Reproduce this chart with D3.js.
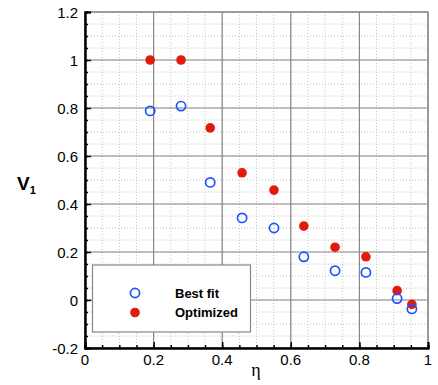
<!DOCTYPE html>
<html>
<head>
<meta charset="utf-8">
<script src="https://cdn.jsdelivr.net/npm/d3@7"></script>
<style>
  body { margin: 0; background: #fff; }
  text { font-family: "Liberation Sans", Arial, sans-serif; }
</style>
</head>
<body>
<div id="chart"></div>
<script>
let etaValues = [0.19, 0.28, 0.365, 0.458, 0.551, 0.638, 0.729, 0.819, 0.91, 0.953];
let bestFit = [0.788, 0.808, 0.49, 0.342, 0.30, 0.18, 0.122, 0.115, 0.006, -0.037];
let optimized = [1.0, 1.0, 0.717, 0.53, 0.458, 0.308, 0.22, 0.18, 0.039, -0.018];
let xTicks = [0, 0.2, 0.4, 0.6, 0.8, 1];
let yTicks = [-0.2, 0, 0.2, 0.4, 0.6, 0.8, 1, 1.2];
let legendLabels = ["Best fit", "Optimized"];

function drawChart() {
  let width = 438, height = 385;
  let left = 85, right = 428, top = 12, bottom = 348;

  let x = d3.scaleLinear().domain([0, 1]).range([left, right]);
  let y = d3.scaleLinear().domain([-0.2, 1.2]).range([bottom, top]);

  let svg = d3.select('#chart').append('svg')
    .attr('width', width).attr('height', height);

  let minorX = d3.range(0, 1.0001, 0.05);
  let minorY = d3.range(-0.2, 1.2001, 0.05);
  let label = d => String(+d.toFixed(1));

  // minor grid, dotted
  svg.append('g').selectAll('line').data(minorX).join('line')
    .attr('x1', d => x(d)).attr('x2', d => x(d))
    .attr('y1', top).attr('y2', bottom)
    .attr('stroke', '#c4c4c4').attr('stroke-width', 1)
    .attr('stroke-dasharray', '1,2');
  svg.append('g').selectAll('line').data(minorY).join('line')
    .attr('y1', d => y(d)).attr('y2', d => y(d))
    .attr('x1', left).attr('x2', right)
    .attr('stroke', '#c4c4c4').attr('stroke-width', 1)
    .attr('stroke-dasharray', '1,2');

  // major grid
  svg.append('g').selectAll('line').data(xTicks).join('line')
    .attr('x1', d => x(d)).attr('x2', d => x(d))
    .attr('y1', top).attr('y2', bottom)
    .attr('stroke', '#888').attr('stroke-width', 1.2);
  svg.append('g').selectAll('line').data(yTicks).join('line')
    .attr('y1', d => y(d)).attr('y2', d => y(d))
    .attr('x1', left).attr('x2', right)
    .attr('stroke', '#888').attr('stroke-width', 1.2);

  // frame
  svg.append('rect')
    .attr('x', left).attr('y', top)
    .attr('width', right - left).attr('height', bottom - top)
    .attr('fill', 'none').attr('stroke', '#888').attr('stroke-width', 1.2);

  // axes with inward ticks
  svg.append('g').attr('transform', `translate(${left},0)`)
    .call(d3.axisRight(y).tickValues(yTicks).tickSize(6).tickFormat(''));
  svg.append('g').attr('transform', `translate(${left},0)`)
    .call(d3.axisRight(y).tickValues(minorY).tickSize(3).tickFormat(''));
  svg.append('g').attr('transform', `translate(0,${bottom})`)
    .call(d3.axisTop(x).tickValues(xTicks).tickSize(6).tickFormat(''));
  svg.append('g').attr('transform', `translate(0,${bottom})`)
    .call(d3.axisTop(x).tickValues(minorX).tickSize(3).tickFormat(''));
  svg.selectAll('.domain').attr('stroke', '#000').attr('stroke-width', 2);
  svg.selectAll('.tick line').attr('stroke', '#000').attr('stroke-width', 1.5);

  // tick labels
  svg.append('g').selectAll('text').data(yTicks).join('text')
    .attr('x', left - 7).attr('y', d => y(d))
    .attr('text-anchor', 'end').attr('dominant-baseline', 'central')
    .attr('font-size', 15).text(label);
  svg.append('g').selectAll('text').data(xTicks).join('text')
    .attr('x', d => x(d)).attr('y', bottom + 17)
    .attr('text-anchor', 'middle')
    .attr('font-size', 15).text(label);

  // axis titles
  let yl = svg.append('text').attr('x', 17).attr('y', 190)
    .attr('font-size', 19).attr('font-weight', 'bold').text('V');
  yl.append('tspan').attr('font-size', 11).attr('dy', 4).text('1');
  svg.append('text').attr('x', 256).attr('y', 376)
    .attr('text-anchor', 'middle').attr('font-size', 18)
    .style('font-family', '"Liberation Serif", "DejaVu Serif", serif')
    .text('η');

  // data
  svg.append('g').selectAll('circle').data(etaValues).join('circle')
    .attr('cx', d => x(d)).attr('cy', (d, i) => y(optimized[i]))
    .attr('r', 4.8).attr('fill', '#e01b0c');
  svg.append('g').selectAll('circle').data(etaValues).join('circle')
    .attr('cx', d => x(d)).attr('cy', (d, i) => y(bestFit[i]))
    .attr('r', 4.6).attr('fill', 'none')
    .attr('stroke', '#1a55ff').attr('stroke-width', 1.7);

  // legend
  let lg = svg.append('g');
  lg.append('rect').attr('x', 92.5).attr('y', 265).attr('width', 158).attr('height', 67)
    .attr('fill', '#fff').attr('stroke', '#888').attr('stroke-width', 1.2);
  lg.append('circle').attr('cx', 135).attr('cy', 293).attr('r', 4.6)
    .attr('fill', 'none').attr('stroke', '#1a55ff').attr('stroke-width', 1.7);
  lg.append('circle').attr('cx', 135).attr('cy', 312.5).attr('r', 4.8)
    .attr('fill', '#e01b0c');
  lg.selectAll('text').data(legendLabels).join('text')
    .attr('x', 175).attr('y', (d, i) => 293 + i * 19.5)
    .attr('dominant-baseline', 'central')
    .attr('font-size', 13).attr('font-weight', 'bold').text(d => d);
}

drawChart();
</script>
</body>
</html>
